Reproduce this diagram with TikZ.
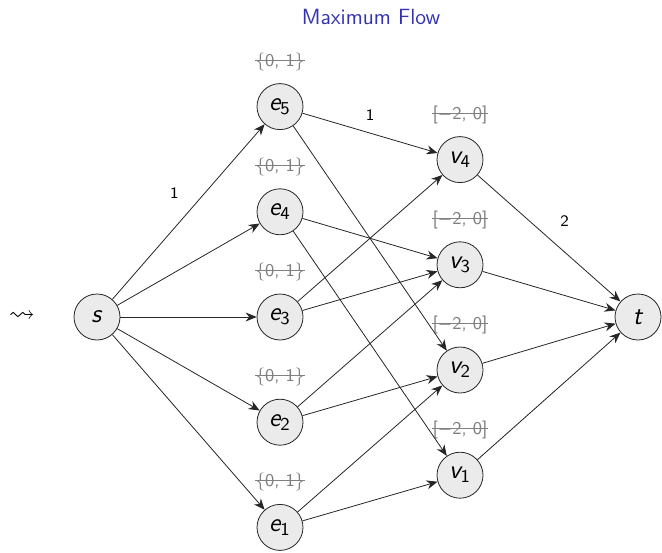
\documentclass[tikz,border=0pt]{standalone}
\usepackage{amsmath}
\usepackage{amssymb}
\usetikzlibrary{positioning,arrows.meta}
\renewcommand{\familydefault}{\sfdefault}
\definecolor{structure}{rgb}{0.2,0.2,0.7}
\pgfmathsetmacro{\colgap}{90}
\pgfmathsetmacro{\rowgap}{52.6}
\pgfmathsetmacro{\boundgap}{22.5}
\newcommand{\sv}[2]{$\textit{#1}_{\text{#2}}$}
\tikzset{
  vtx/.style={circle, draw=black!85, fill=black!8, minimum size=23pt,
    inner sep=0pt, font=\fontsize{13}{15}\selectfont},
  flow/.style={-{Stealth[length=5.5pt,width=4.5pt]}, draw=black!85},
  % crossed out bound, line through the middle of the text
  bound/.style={text=gray, font=\small, inner xsep=0pt,
    append after command={([yshift=0.3em]\tikzlastnode.base west)
      edge[gray, line width=0.5pt] ([yshift=0.3em]\tikzlastnode.base east)}},
  flowlabel/.style={font=\footnotesize, text=black},
}

\begin{document}
\begin{tikzpicture}[on grid]
    \useasboundingbox (0,0) rectangle (331pt,276pt);
    % title
    \node[text=structure, font=\fontsize{11}{13}\selectfont] (title) at (185.5pt,267.5pt) {Maximum Flow};
    % define vertices
    % source and sink
    \node[vtx] (s) at (48.5pt,117.5pt) {\textit{s}};
    \node[vtx, right=270.5pt of s] (t) {\textit{t}};
    \node[left=37.5pt of s, font=\fontsize{13}{15}\selectfont] (arr) {$\leadsto$};
    % edge vertices
    \node[vtx, right=91.5pt of s] (e3) {\sv{e}{3}};
    \node[vtx, above=\rowgap pt of e3] (e4) {\sv{e}{4}};
    \node[vtx, above=\rowgap pt of e4] (e5) {\sv{e}{5}};
    \node[vtx, below=\rowgap pt of e3] (e2) {\sv{e}{2}};
    \node[vtx, below=\rowgap pt of e2] (e1) {\sv{e}{1}};
    % node vertices
    \node[vtx, below right=26.5pt and \colgap pt of e5] (v4) {\sv{v}{4}};
    \node[vtx, below=\rowgap pt of v4] (v3) {\sv{v}{3}};
    \node[vtx, below=\rowgap pt of v3] (v2) {\sv{v}{2}};
    \node[vtx, below=\rowgap pt of v2] (v1) {\sv{v}{1}};
    % crossed out bounds
    \foreach \i in {1,...,5}
        \node[bound, above=\boundgap pt of e\i] (be\i) {\{0, 1\}};
    \foreach \i in {1,...,4}
        \node[bound, above=\boundgap pt of v\i] (bv\i) {[$-$2, 0]};
    % draw edges
    \foreach \i in {1,...,5}
        \draw[flow] (s) -- (e\i);
    \foreach \a/\b in {e5/v4, e5/v2, e4/v3, e4/v1, e3/v4, e3/v3, e2/v3, e2/v2, e1/v2, e1/v1}
        \draw[flow] (\a) -- (\b);
    \foreach \i in {1,...,4}
        \draw[flow] (v\i) -- (t);
    % add labels
    \path (s) -- (e5) node[flowlabel, pos=0.51, above left=3pt] {1};
    \path (e5) -- (v4) node[flowlabel, midway, above=3pt] {1};
    \path (v4) -- (t) node[flowlabel, midway, above right=3pt] {2};
\end{tikzpicture}
\end{document}
